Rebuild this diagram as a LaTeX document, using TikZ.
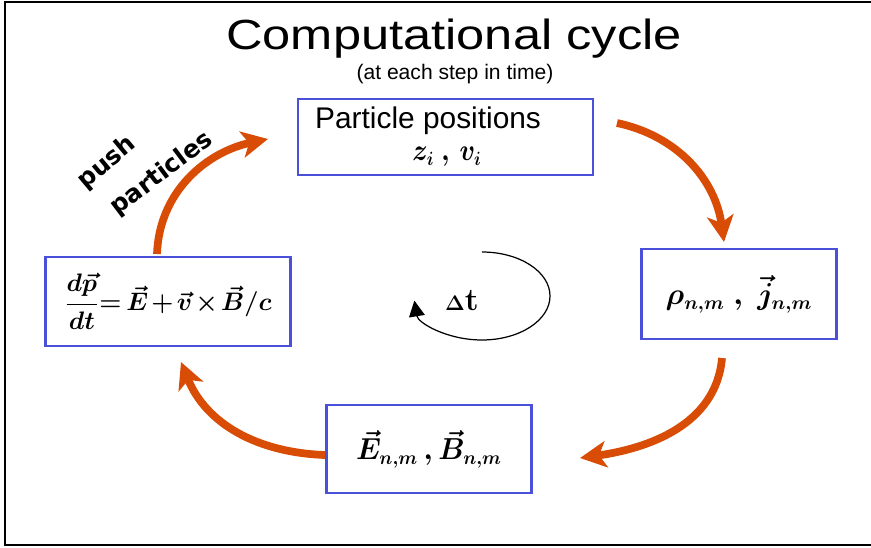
\documentclass[tikz,border=0pt]{standalone}
\usepackage{amsmath,amssymb}
\usepackage{fontspec}
\usepackage{graphicx}
\usepackage{tikz}
\usetikzlibrary{arrows.meta}
\newfontfamily\titlefont[FakeStretch=1.2]{Liberation Sans}
\newfontfamily\labelfont{Liberation Sans}
\newfontfamily\pushfont{DejaVu Sans}
\definecolor{boxblue}{RGB}{74,80,218}
\definecolor{cycleorange}{RGB}{216,76,6}

\begin{document}
\begin{tikzpicture}[x=0.02cm, y=0.02cm,
  cyclebox/.style={draw=boxblue, line width=1.6pt, fill=white, inner sep=0pt},
  mathtext/.style={font=\fontsize{16}{19}\selectfont\boldmath},
  cyclearrow/.style={cycleorange, line width=4.4pt, -{Stealth[length=15pt,width=15pt,inset=4pt]}}]
  \useasboundingbox (0,0) rectangle (871,-547);
  \draw[line width=1.1pt] (871,-2) -- (5,-2) -- (5,-545) -- (871,-545);

  \node[font=\titlefont\fontsize{24}{28}\selectfont, anchor=base] (title) at (454,-50) {Computational cycle};
  \node[font=\labelfont\fontsize{12}{14}\selectfont] (subtitle) at (455,-74) {(at each step in time)};

  % the four stages
  \node[cyclebox, minimum width=5.9cm, minimum height=1.52cm] (pos) at (445.5,-137) {};
  \node[font=\labelfont\fontsize{17}{20}\selectfont, anchor=west] (poslabel) at (309,-121) {Particle positions};
  \node[mathtext] (posvar) at (447,-157) {\scalebox{0.85}[1]{$z_i\ ,\, v_i$}};

  \node[cyclebox, mathtext, minimum width=3.9cm, minimum height=1.8cm] (dens) at (739,-294)
    {$\rho_{n,m}\ ,\ \vec{j}_{n,m}$};
  \node[cyclebox, mathtext, minimum width=4.1cm, minimum height=1.76cm] (field) at (429,-449)
    {\scalebox{0.95}[1]{$\vec{E}_{n,m}\,,\vec{B}_{n,m}$}};
  \node[cyclebox, minimum width=4.9cm, minimum height=1.78cm,
        font=\fontsize{14.5}{18}\selectfont\boldmath] (push) at (168,-301.5)
    {$\medmuskip=2mu \thickmuskip=3mu \dfrac{d\vec{p}}{dt}\!=\vec{E}+\vec{v}\times\vec{B}/c$};

  % orange arrows between the stages
  \coordinate (a1s) at (617,-123);
  \coordinate (a1e) at (724,-242);
  \coordinate (a2s) at (722,-358);
  \coordinate (a2e) at (580,-458);
  \coordinate (a3s) at (325,-455);
  \coordinate (a3e) at (181,-362);
  \coordinate (a4s) at (157,-254);
  \coordinate (a4e) at (268,-139);
  \draw[cyclearrow] (a1s) to[out=-12, in=98] (a1e);
  \draw[cyclearrow] (a2s) to[out=-95, in=8] (a2e);
  \draw[cyclearrow] (a3s) to[out=178, in=-68] (a3e);
  \draw[cyclearrow] (a4s) to[out=88, in=192] (a4e);

  \node[font=\pushfont\bfseries\fontsize{14}{16}\selectfont, rotate=40] (pushword) at (107,-163) {push};
  \node[font=\pushfont\bfseries\fontsize{14}{16}\selectfont, rotate=37] (partword) at (162,-174) {particles};

  % time step
  \node[font=\fontsize{18}{20}\selectfont] (dt) at (462,-301) {$\scriptstyle\boldsymbol{\Delta}$\textbf{t}};
  \coordinate (dts) at (482,-252);
  \draw[line width=0.7pt, -{Triangle[length=9pt,width=9pt]}] (dts)
    arc[start angle=90, end angle=-174, x radius=68, y radius=44];
\end{tikzpicture}
\end{document}
